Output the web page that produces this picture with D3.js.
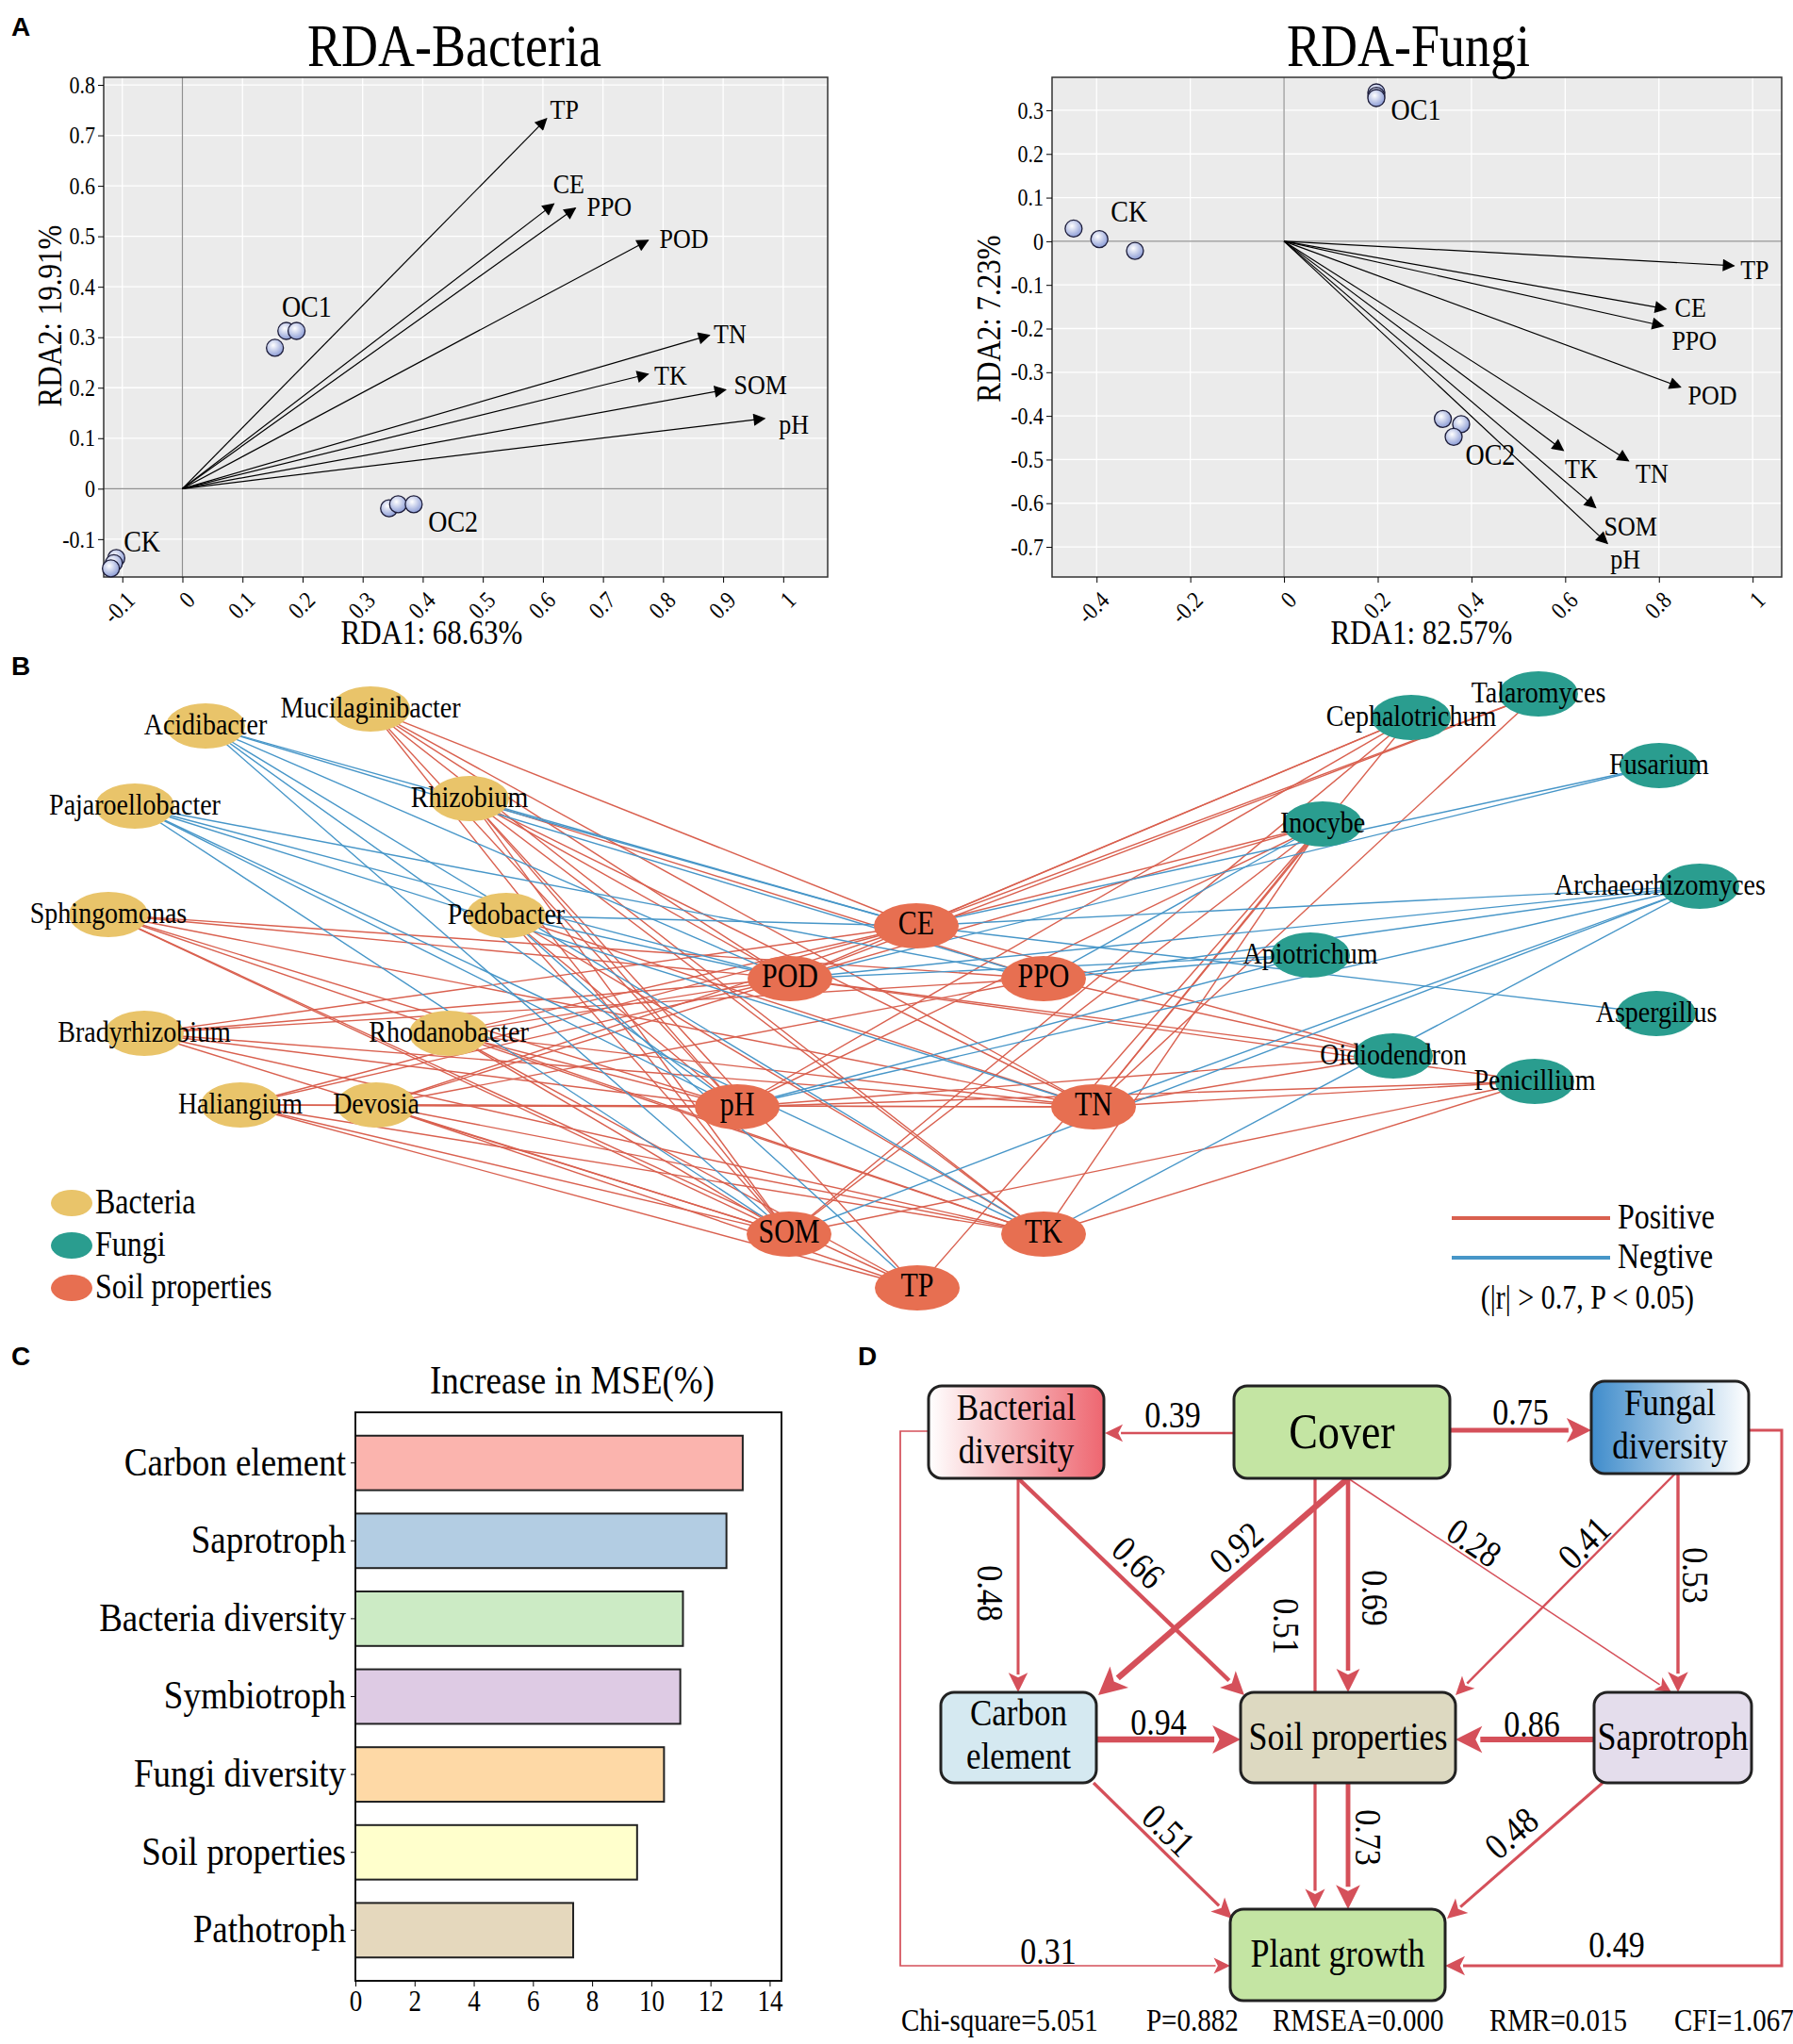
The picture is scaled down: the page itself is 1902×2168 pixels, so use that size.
<!DOCTYPE html>
<html>
<head>
<meta charset="utf-8">
<script src="https://cdn.jsdelivr.net/npm/d3@7"></script>
<style>
  body { margin: 0; background: #fff; }
  .panel-tag { font-family: "Liberation Sans", Arial, sans-serif; font-weight: bold; font-size: 28px; }
</style>
</head>
<body>
<svg id="fig" width="1902" height="2168"></svg>
<script>
// ---------- data: RDA ----------
const soilVars = ["TP", "CE", "PPO", "POD", "TN", "TK", "SOM", "pH"];
const bactArrowX = [0.606, 0.618, 0.654, 0.775, 0.877, 0.775, 0.904, 0.969];
const bactArrowY = [0.733, 0.564, 0.556, 0.492, 0.304, 0.227, 0.196, 0.139];
const fungArrowX = [0.960, 0.815, 0.809, 0.846, 0.735, 0.596, 0.665, 0.690];
const fungArrowY = [-0.056, -0.155, -0.194, -0.334, -0.503, -0.479, -0.610, -0.692];

const siteGroups = ["CK", "CK", "CK", "OC1", "OC1", "OC1", "OC2", "OC2", "OC2"];
const bactSiteX = [-0.110, -0.114, -0.119, 0.154, 0.173, 0.190, 0.344, 0.359, 0.385];
const bactSiteY = [-0.1375, -0.1475, -0.158, 0.279, 0.3125, 0.3125, -0.039, -0.031, -0.031];
const fungSiteX = [-0.449, -0.394, -0.318, 0.197, 0.197, 0.197, 0.339, 0.378, 0.362];
const fungSiteY = [0.029, 0.005, -0.022, 0.341, 0.333, 0.328, -0.407, -0.419, -0.448];

// ---------- data: network ----------
const bacteriaTaxa = ["Acidibacter", "Mucilaginibacter", "Pajaroellobacter", "Rhizobium", "Sphingomonas",
  "Pedobacter", "Bradyrhizobium", "Rhodanobacter", "Haliangium", "Devosia"];
const fungiTaxa = ["Talaromyces", "Cephalotrichum", "Fusarium", "Inocybe", "Archaeorhizomyces",
  "Apiotrichum", "Aspergillus", "Oidiodendron", "Penicillium"];
const soilNodes = ["CE", "POD", "PPO", "pH", "TN", "SOM", "TK", "TP"];
const positiveLinks = [
  ["Mucilaginibacter", "CE POD pH SOM TN TK"],
  ["Rhizobium", "POD PPO pH SOM TN TK TP"],
  ["Sphingomonas", "POD PPO pH SOM TN TK TP"],
  ["Pedobacter", "pH SOM TN TK"],
  ["Bradyrhizobium", "CE POD PPO pH SOM TN TK"],
  ["Rhodanobacter", "CE POD pH SOM TN TK TP"],
  ["Haliangium", "CE POD pH SOM TN TK TP"],
  ["Devosia", "CE POD PPO pH SOM TN TK TP"],
  ["Talaromyces", "CE POD TN"],
  ["Cephalotrichum", "CE POD pH SOM TN"],
  ["Inocybe", "CE POD pH SOM TN TK TP"],
  ["Oidiodendron", "CE POD PPO pH TN"],
  ["Penicillium", "POD pH SOM TN TK"]
];
const negativeLinks = [
  ["Acidibacter", "CE POD PPO pH SOM TK"],
  ["Pajaroellobacter", "POD PPO pH SOM TN TK"],
  ["Rhizobium", "CE"],
  ["Pedobacter", "CE POD TP"],
  ["Fusarium", "CE POD"],
  ["Inocybe", "PPO"],
  ["Archaeorhizomyces", "CE POD PPO pH SOM TN TK"],
  ["Apiotrichum", "POD PPO pH"],
  ["Aspergillus", "CE"]
];

// ---------- data: random forest ----------
const mseLabels = ["Carbon element", "Saprotroph", "Bacteria diversity", "Symbiotroph",
  "Fungi diversity", "Soil properties", "Pathotroph"];
const mseValues = [13.09, 12.54, 11.07, 10.98, 10.43, 9.52, 7.36];
const mseTicks = [0, 2, 4, 6, 8, 10, 12, 14];

// ---------- data: SEM ----------
const semNodes = ["Bacterial diversity", "Cover", "Fungal diversity", "Carbon element",
  "Soil properties", "Saprotroph", "Plant growth"];
const semFrom = ["Cover", "Cover", "Bacterial diversity", "Bacterial diversity", "Cover", "Cover", "Cover", "Cover",
  "Fungal diversity", "Fungal diversity", "Carbon element", "Saprotroph", "Carbon element", "Soil properties",
  "Saprotroph", "Bacterial diversity", "Fungal diversity"];
const semTo = ["Bacterial diversity", "Fungal diversity", "Carbon element", "Soil properties", "Carbon element",
  "Plant growth", "Soil properties", "Saprotroph", "Soil properties", "Saprotroph", "Soil properties",
  "Soil properties", "Plant growth", "Plant growth", "Plant growth", "Plant growth", "Plant growth"];
const semCoef = [0.39, 0.75, 0.48, 0.66, 0.92, 0.51, 0.69, 0.28, 0.41, 0.53, 0.94, 0.86, 0.51, 0.73, 0.48, 0.31, 0.49];
const semFit = ["Chi-square=5.051", "P=0.882", "RMSEA=0.000", "RMR=0.015", "CFI=1.067"];

// =====================================================================
const svg = d3.select("#fig")
  .attr("font-family", "'Liberation Serif','Times New Roman',serif");
const defs = svg.append("defs");

// point gradient
let pg = defs.append("radialGradient").attr("id", "ptGrad")
  .attr("cx", "40%").attr("cy", "35%").attr("r", "65%");
pg.append("stop").attr("offset", "0%").attr("stop-color", "#ffffff");
pg.append("stop").attr("offset", "100%").attr("stop-color", "#8d9dd6");

defs.append("marker").attr("id", "rdaHead")
  .attr("viewBox", "0 0 10 10").attr("refX", 9).attr("refY", 5)
  .attr("markerWidth", 15).attr("markerHeight", 13)
  .attr("markerUnits", "userSpaceOnUse").attr("orient", "auto")
  .append("path").attr("d", "M0,0 L10,5 L0,10 z").attr("fill", "#000");

const tag = (t, x, y) => svg.append("text").attr("class", "panel-tag").attr("x", x).attr("y", y).text(t);
tag("A", 12, 38); tag("B", 12, 716); tag("C", 12, 1448); tag("D", 910, 1448);

function drawRDA(o) {
  const g = svg.append("g");
  const top = 82, bottom = 612;
  const x = d3.scaleLinear().domain(o.xDom).range(o.xRange);
  const y = d3.scaleLinear().domain(o.yDom).range([bottom, top]);
  const fmt = d => String(+d.toFixed(1));

  g.append("rect").attr("x", o.xRange[0]).attr("y", top)
    .attr("width", o.xRange[1] - o.xRange[0]).attr("height", bottom - top).attr("fill", "#ebebeb");

  g.selectAll(".vg").data(o.xTicks).join("line")
    .attr("x1", d => x(d)).attr("x2", d => x(d)).attr("y1", top).attr("y2", bottom)
    .attr("stroke", "#fff").attr("stroke-width", 1.3);
  g.selectAll(".hg").data(o.yTicks).join("line")
    .attr("y1", d => y(d)).attr("y2", d => y(d)).attr("x1", o.xRange[0]).attr("x2", o.xRange[1])
    .attr("stroke", "#fff").attr("stroke-width", 1.3);

  // zero lines
  g.append("line").attr("x1", x(0)).attr("x2", x(0)).attr("y1", top).attr("y2", bottom)
    .attr("stroke", "#8f8f8f").attr("stroke-width", 1.2);
  g.append("line").attr("y1", y(0)).attr("y2", y(0)).attr("x1", o.xRange[0]).attr("x2", o.xRange[1])
    .attr("stroke", "#8f8f8f").attr("stroke-width", 1.2);

  g.append("rect").attr("x", o.xRange[0]).attr("y", top)
    .attr("width", o.xRange[1] - o.xRange[0]).attr("height", bottom - top)
    .attr("fill", "none").attr("stroke", "#333").attr("stroke-width", 1.5);

  const xa = g.append("g").attr("transform", `translate(0,${bottom})`)
    .call(d3.axisBottom(x).tickValues(o.xTicks).tickSize(6).tickFormat(fmt));
  xa.select(".domain").remove();
  xa.attr("font-family", null).attr("font-size", 22);
  xa.selectAll("text").attr("x", 0).attr("y", 0).attr("dy", "0.35em")
    .attr("transform", "translate(8,20) rotate(-45)").style("text-anchor", "end");

  const ya = g.append("g").attr("transform", `translate(${o.xRange[0]},0)`)
    .call(d3.axisLeft(y).tickValues(o.yTicks).tickSize(6).tickFormat(fmt));
  ya.select(".domain").remove();
  ya.attr("font-family", null).attr("font-size", 22);

  // titles
  g.append("text").attr("x", o.titleX).attr("y", 70).attr("text-anchor", "middle")
    .attr("font-size", 54).text(o.title);
  g.append("text").attr("x", o.xLabX).attr("y", 683).attr("text-anchor", "middle")
    .attr("font-size", 31).text(o.xLab);
  g.append("text").attr("transform", `translate(${o.yLabX},${o.yLabY}) rotate(-90)`)
    .attr("text-anchor", "middle").attr("dy", "0.35em").attr("font-size", 31).text(o.yLab);

  // arrows
  g.selectAll(".arr").data(soilVars).join("line")
    .attr("x1", x(0)).attr("y1", y(0))
    .attr("x2", (d, i) => x(o.ax[i])).attr("y2", (d, i) => y(o.ay[i]))
    .attr("stroke", "#000").attr("stroke-width", 1.2).attr("marker-end", "url(#rdaHead)");
  g.selectAll(".arrLab").data(soilVars).join("text")
    .attr("x", (d, i) => x(o.ax[i]) + o.labOff[d][0])
    .attr("y", (d, i) => y(o.ay[i]) + o.labOff[d][1])
    .attr("text-anchor", "middle").attr("dy", "0.35em").attr("font-size", 26).text(d => d);

  // sites
  g.selectAll(".pt").data(siteGroups).join("circle")
    .attr("cx", (d, i) => x(o.sx[i])).attr("cy", (d, i) => y(o.sy[i])).attr("r", 9)
    .attr("fill", "url(#ptGrad)").attr("stroke", "#1d1d3a").attr("stroke-width", 1.3);

  const groups = Array.from(new Set(siteGroups));
  g.selectAll(".grpLab").data(groups).join("text")
    .attr("x", gr => x(d3.mean(o.sx.filter((v, i) => siteGroups[i] === gr))) + o.grpOff[gr][0])
    .attr("y", gr => y(d3.mean(o.sy.filter((v, i) => siteGroups[i] === gr))) + o.grpOff[gr][1])
    .attr("text-anchor", "middle").attr("dy", "0.35em").attr("font-size", 28).text(gr => gr);
}

drawRDA({
  xDom: [-0.131, 1.074], xRange: [110, 878], yDom: [-0.175, 0.815],
  xTicks: d3.range(-0.1, 1.05, 0.1).map(v => +v.toFixed(1)),
  yTicks: d3.range(-0.1, 0.85, 0.1).map(v => +v.toFixed(1)),
  ax: bactArrowX, ay: bactArrowY, sx: bactSiteX, sy: bactSiteY,
  title: "RDA-Bacteria", titleX: 482, xLab: "RDA1: 68.63%", xLabX: 458,
  yLab: "RDA2: 19.91%", yLabX: 52, yLabY: 335,
  labOff: { TP: [19, -10], CE: [16, -22], PPO: [36, -2], POD: [38, -2], TN: [22, -2], TK: [24, 1], SOM: [37, -6], pH: [31, 6] },
  grpOff: { CK: [30, -24], OC1: [22, -32], OC2: [56, 16] }
});
drawRDA({
  xDom: [-0.495, 1.062], xRange: [1116, 1890], yDom: [-0.769, 0.3755],
  xTicks: [-0.4, -0.2, 0, 0.2, 0.4, 0.6, 0.8, 1],
  yTicks: d3.range(-0.7, 0.35, 0.1).map(v => +v.toFixed(1)),
  ax: fungArrowX, ay: fungArrowY, sx: fungSiteX, sy: fungSiteY,
  title: "RDA-Fungi", titleX: 1494, xLab: "RDA1: 82.57%", xLabX: 1508,
  yLab: "RDA2: 7.23%", yLabX: 1048, yLabY: 338,
  labOff: { TP: [22, 4], CE: [26, -2], PPO: [33, 15], POD: [34, 8], TN: [25, 13], TK: [19, 19], SOM: [37, 19], pH: [19, 16] },
  grpOff: { CK: [28, -30], OC1: [42, 14], OC2: [40, 29] }
});

// =====================================================================
// Panel B network
const netPos = {
  Acidibacter: [218, 770], Mucilaginibacter: [393, 752], Pajaroellobacter: [143, 855], Rhizobium: [498, 847],
  Sphingomonas: [115, 970], Pedobacter: [537, 971], Bradyrhizobium: [153, 1096], Rhodanobacter: [476, 1096],
  Haliangium: [255, 1172], Devosia: [399, 1172],
  CE: [972, 982], POD: [838, 1038], PPO: [1107, 1038], pH: [782, 1174], TN: [1160, 1174],
  SOM: [837, 1309], TK: [1107, 1309], TP: [973, 1366],
  Talaromyces: [1632, 736], Cephalotrichum: [1497, 761], Fusarium: [1760, 812], Inocybe: [1403, 874],
  Archaeorhizomyces: [1803, 940], Apiotrichum: [1390, 1013], Aspergillus: [1757, 1075],
  Oidiodendron: [1478, 1120], Penicillium: [1628, 1147]
};
const labelShift = { Archaeorhizomyces: -42 };
const nodeColor = d3.scaleOrdinal().domain(["Bacteria", "Fungi", "Soil properties"])
  .range(["#E9C46A", "#2A9D8F", "#E76F51"]);
const linkColor = { pos: "#D9604F", neg: "#4796C8" };

const links = [];
positiveLinks.forEach(([a, s]) => s.split(" ").forEach(b => links.push({ a, b, t: "pos" })));
negativeLinks.forEach(([a, s]) => s.split(" ").forEach(b => links.push({ a, b, t: "neg" })));

const netNodes = [
  ...bacteriaTaxa.map(n => ({ n, type: "Bacteria" })),
  ...fungiTaxa.map(n => ({ n, type: "Fungi" })),
  ...soilNodes.map(n => ({ n, type: "Soil properties" }))
];

const gB = svg.append("g");
gB.selectAll(".lk").data(links).join("line")
  .attr("x1", d => netPos[d.a][0]).attr("y1", d => netPos[d.a][1])
  .attr("x2", d => netPos[d.b][0]).attr("y2", d => netPos[d.b][1])
  .attr("stroke", d => linkColor[d.t]).attr("stroke-width", 1.4);
gB.selectAll(".nd").data(netNodes).join("ellipse")
  .attr("cx", d => netPos[d.n][0]).attr("cy", d => netPos[d.n][1])
  .attr("rx", d => d.type === "Soil properties" ? 45 : 42).attr("ry", 24)
  .attr("fill", d => nodeColor(d.type));
gB.selectAll(".nl").data(netNodes).join("text")
  .attr("x", d => netPos[d.n][0] + (labelShift[d.n] || 0)).attr("y", d => netPos[d.n][1] + 9)
  .attr("text-anchor", "middle")
  .attr("font-size", d => d.type === "Soil properties" ? 30 : 28).text(d => d.n);

// legends
const lg = gB.append("g");
lg.selectAll("ellipse").data(nodeColor.domain()).join("ellipse")
  .attr("cx", 76).attr("cy", (d, i) => 1276 + i * 45).attr("rx", 22).attr("ry", 14)
  .attr("fill", d => nodeColor(d));
lg.selectAll("text").data(nodeColor.domain()).join("text")
  .attr("x", 101).attr("y", (d, i) => 1287 + i * 45)
  .attr("font-size", 32).text(d => d);

const lg2 = gB.append("g");
[["Positive", "pos"], ["Negtive", "neg"]].forEach(([lab, t], i) => {
  lg2.append("line").attr("x1", 1540).attr("x2", 1708).attr("y1", 1292 + i * 42).attr("y2", 1292 + i * 42)
    .attr("stroke", linkColor[t]).attr("stroke-width", 4);
  lg2.append("text").attr("x", 1716).attr("y", 1303 + i * 42)
    .attr("font-size", 32).text(lab);
});
lg2.append("text").attr("x", 1684).attr("y", 1388).attr("text-anchor", "middle")
  .attr("font-size", 30).text("(|r| > 0.7, P < 0.05)");

// =====================================================================
// Panel C bars
const gC = svg.append("g");
const xC = d3.scaleLinear().domain([0, 14.4]).range([377, 829]);
const yC = d3.scaleBand().domain(mseLabels).range([1498, 2101]).padding(0.3);
const barColor = d3.scaleOrdinal(d3.schemePastel1).domain(mseLabels);

gC.append("text").attr("x", 607).attr("y", 1478).attr("text-anchor", "middle")
  .attr("font-size", 37).text("Increase in MSE(%)");
gC.selectAll(".bar").data(mseLabels).join("rect")
  .attr("x", xC(0)).attr("y", d => yC(d))
  .attr("width", (d, i) => xC(mseValues[i]) - xC(0)).attr("height", yC.bandwidth())
  .attr("fill", d => barColor(d)).attr("stroke", "#222").attr("stroke-width", 2);
gC.append("rect").attr("x", xC.range()[0]).attr("y", 1498)
  .attr("width", xC.range()[1] - xC.range()[0]).attr("height", 2101 - 1498)
  .attr("fill", "none").attr("stroke", "#111").attr("stroke-width", 2);
const xCa = gC.append("g").attr("transform", "translate(0,2101)")
  .call(d3.axisBottom(xC).tickValues(mseTicks).tickSize(6).tickPadding(4));
xCa.select(".domain").remove();
xCa.attr("font-family", null).attr("font-size", 27);
const yCa = gC.append("g").attr("transform", `translate(${xC(0)},0)`)
  .call(d3.axisLeft(yC).tickSize(5).tickPadding(5));
yCa.select(".domain").remove();
yCa.attr("font-family", null).attr("font-size", 37);
yCa.selectAll("text").attr("dy", "0.3em");

// =====================================================================
// Panel D SEM
const semBox = {
  "Bacterial diversity": [985, 1470, 186, 98],
  "Cover": [1309, 1470, 229, 98],
  "Fungal diversity": [1688, 1465, 167, 98],
  "Carbon element": [998, 1795, 165, 96],
  "Soil properties": [1316, 1795, 228, 96],
  "Saprotroph": [1691, 1795, 167, 96],
  "Plant growth": [1305, 2025, 228, 97]
};
const semFill = {
  "Cover": "#C4E5A3", "Carbon element": "#D5E9F1", "Soil properties": "#DDD9C1",
  "Saprotroph": "#E4DDEC", "Plant growth": "#C4E5A3",
  "Bacterial diversity": "url(#gradBact)", "Fungal diversity": "url(#gradFung)"
};
const semLines = {
  "Bacterial diversity": ["Bacterial", "diversity"], "Fungal diversity": ["Fungal", "diversity"],
  "Carbon element": ["Carbon", "element"], "Cover": ["Cover"], "Soil properties": ["Soil properties"],
  "Saprotroph": ["Saprotroph"], "Plant growth": ["Plant growth"]
};
const semRoute = [
  [[1309, 1520], [1172, 1520]],
  [[1538, 1517], [1688, 1517]],
  [[1080, 1568], [1080, 1795]],
  [[1080, 1568], [1320, 1798]],
  [[1430, 1568], [1165, 1798]],
  [[1395, 1568], [1395, 2025]],
  [[1430, 1568], [1430, 1795]],
  [[1430, 1568], [1773, 1795]],
  [[1777, 1563], [1544, 1798]],
  [[1780, 1563], [1780, 1795]],
  [[1163, 1845], [1316, 1845]],
  [[1691, 1845], [1544, 1845]],
  [[1160, 1891], [1307, 2035]],
  [[1430, 1891], [1430, 2025]],
  [[1700, 1891], [1535, 2035]],
  [[985, 1518], [955, 1518], [955, 2085], [1305, 2085]],
  [[1855, 1517], [1890, 1517], [1890, 2085], [1533, 2085]]
];
const semLabelPos = [[1244, 1500, 0], [1613, 1497, 0], [1051, 1690, 90], [1208, 1657, 44], [1311, 1641, -41],
  [1365, 1725, 90], [1459, 1695, 90], [1564, 1636, 34], [1680, 1636, -45], [1799, 1671, 90],
  [1229, 1826, 0], [1625, 1828, 0], [1240, 1941, 44], [1452, 1949, 90], [1603, 1944, -41],
  [1112, 2069, 0], [1715, 2062, 0]];

let gb = defs.append("linearGradient").attr("id", "gradBact");
gb.append("stop").attr("offset", "0%").attr("stop-color", "#ffffff");
gb.append("stop").attr("offset", "100%").attr("stop-color", "#EE6670");
let gf = defs.append("linearGradient").attr("id", "gradFung");
gf.append("stop").attr("offset", "0%").attr("stop-color", "#3F8CCB");
gf.append("stop").attr("offset", "100%").attr("stop-color", "#ffffff");

const gD = svg.append("g");
const semColor = "#D5505A";
const wScale = d3.scaleLinear().domain([0.28, 0.94]).range([1.5, 6.5]);

semCoef.forEach((c, i) => {
  const pts = semRoute[i].map(p => p.slice());
  const w = wScale(c);
  const n = pts.length;
  const [x1, y1] = pts[n - 2], [x2, y2] = pts[n - 1];
  const len = Math.hypot(x2 - x1, y2 - y1);
  const ux = (x2 - x1) / len, uy = (y2 - y1) / len;
  const hl = 13 + 2.6 * w, hw = 6 + 1.4 * w;
  pts[n - 1] = [x2 - ux * (hl - 2), y2 - uy * (hl - 2)];
  gD.append("path").attr("d", d3.line()(pts)).attr("fill", "none")
    .attr("stroke", semColor).attr("stroke-width", w);
  const bx = x2 - ux * hl, by = y2 - uy * hl;
  gD.append("path")
    .attr("d", `M${x2},${y2} L${bx - uy * hw},${by + ux * hw} L${bx + ux * hl * 0.25},${by + uy * hl * 0.25} L${bx + uy * hw},${by - ux * hw} Z`)
    .attr("fill", semColor);
  const [lx, ly, la] = semLabelPos[i];
  gD.append("text").attr("transform", `translate(${lx},${ly}) rotate(${la})`)
    .attr("text-anchor", "middle").attr("dy", "0.35em").attr("font-size", 34)
    .text(c.toFixed(2));
});

semNodes.forEach(nm => {
  const [bx, by, bw, bh] = semBox[nm];
  gD.append("rect").attr("x", bx).attr("y", by).attr("width", bw).attr("height", bh)
    .attr("rx", 14).attr("fill", semFill[nm]).attr("stroke", "#222").attr("stroke-width", 3);
  const lines = semLines[nm];
  const fs = nm === "Cover" ? 46 : 36;
  const cy = by + bh / 2;
  lines.forEach((t, k) => {
    gD.append("text").attr("x", bx + bw / 2)
      .attr("y", lines.length === 1 ? cy + fs * 0.36 : cy - 13 + k * 46)
      .attr("text-anchor", "middle").attr("font-size", lines.length === 1 ? fs : 35).text(t);
  });
});

const fitX = [956, 1216, 1350, 1580, 1776];
gD.selectAll(".fit").data(semFit).join("text")
  .attr("x", (d, i) => fitX[i]).attr("y", 2154).attr("font-size", 29).text(d => d);

// the original lettering is a tall, narrow Times: stretch every serif label vertically about its baseline
const stretch = 1.16;
svg.selectAll("text").each(function () {
  const t = d3.select(this);
  if (t.classed("panel-tag")) return;
  const yb = +t.attr("y") || 0;
  const tr = t.attr("transform") || "";
  t.attr("transform", `${tr} translate(0,${yb * (1 - stretch)}) scale(1,${stretch})`);
});
</script>
</body>
</html>
